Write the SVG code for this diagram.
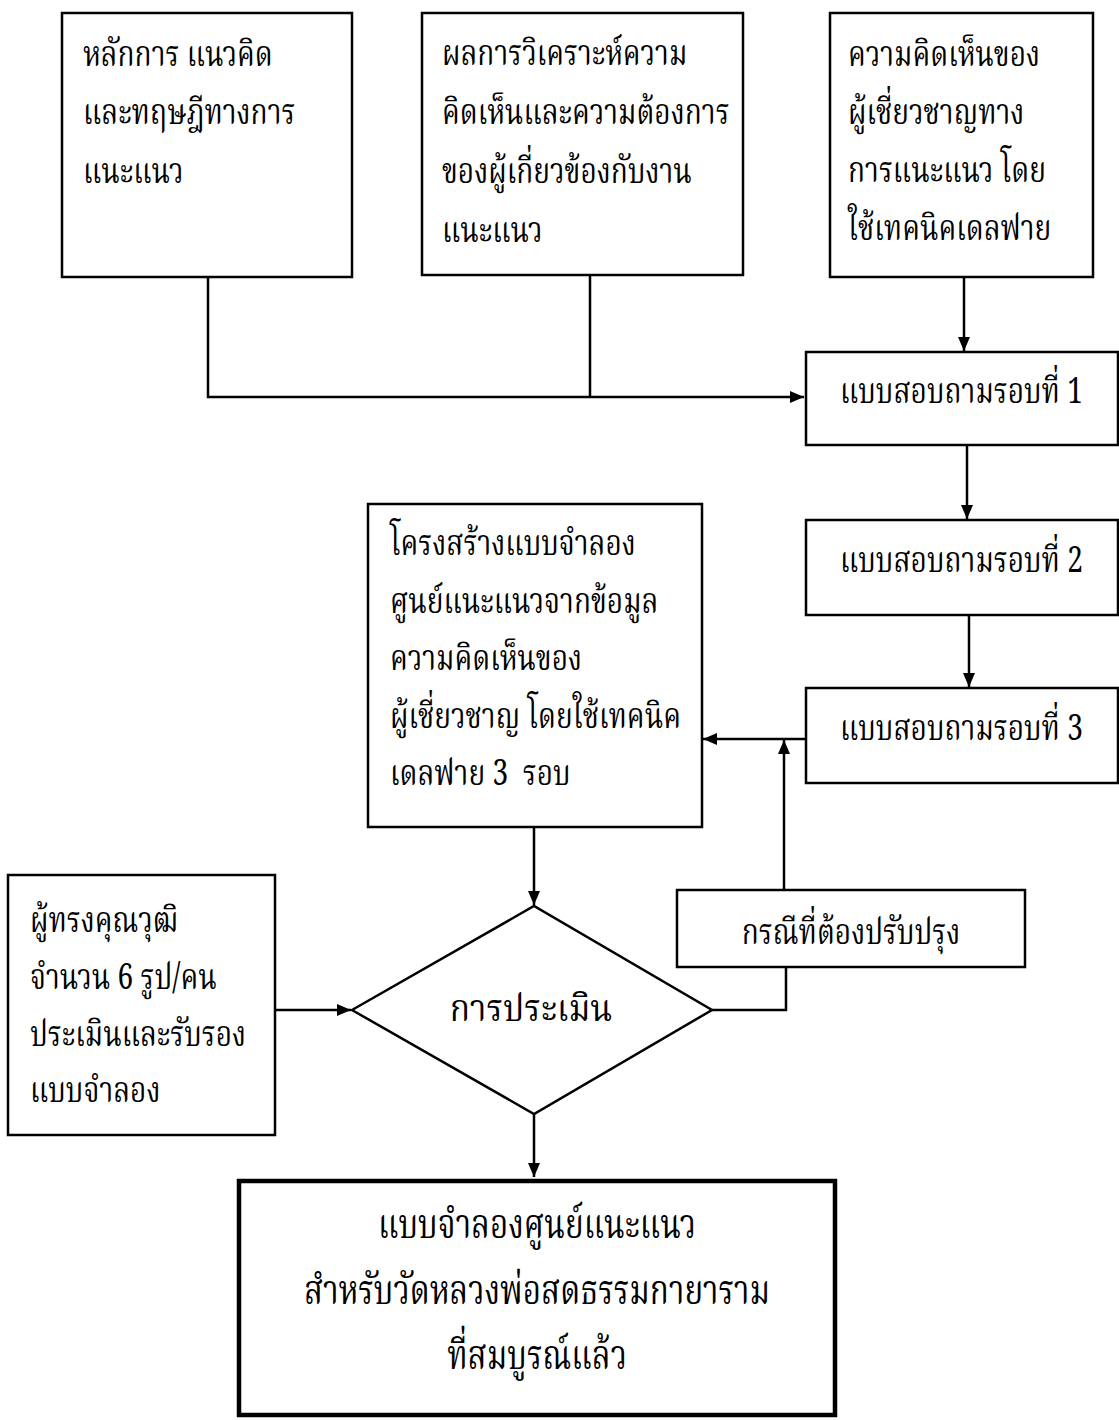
<svg xmlns="http://www.w3.org/2000/svg" width="1119" height="1420" viewBox="0 0 1119 1420">
<defs>
<marker id="ah" markerWidth="14" markerHeight="12" refX="14" refY="6" orient="auto" markerUnits="userSpaceOnUse">
<path d="M0,0 L14,6 L0,12 Z" fill="#000"/>
</marker>
<style>
.box{fill:#fff;stroke:#000;stroke-width:2.5}
.fin{fill:#fff;stroke:#000;stroke-width:4.5}
.t{font-family:"Noto Serif Thai","Noto Sans Thai","Loma","Garuda","Norasi","Liberation Serif",serif;font-size:36px;fill:#000}
.tc{text-anchor:middle}
.tf{font-size:41px}
.td{font-size:38px}
.c{fill:none;stroke:#000;stroke-width:2.5}
</style>
</defs>
<rect width="1119" height="1420" fill="#fff"/>
<g id="connectors">
<polyline class="c" points="208,277 208,397 804,397" marker-end="url(#ah)"/>
<line class="c" x1="590" y1="275" x2="590" y2="397"/>
<line class="c" x1="964" y1="277" x2="964" y2="351" marker-end="url(#ah)"/>
<line class="c" x1="967" y1="445" x2="967" y2="519" marker-end="url(#ah)"/>
<line class="c" x1="969" y1="615" x2="969" y2="687" marker-end="url(#ah)"/>
<line class="c" x1="806" y1="739" x2="703" y2="739" marker-end="url(#ah)"/>
<line class="c" x1="784" y1="890" x2="784" y2="740" marker-end="url(#ah)"/>
<line class="c" x1="534" y1="827" x2="534" y2="905" marker-end="url(#ah)"/>
<line class="c" x1="275" y1="1010" x2="351" y2="1010" marker-end="url(#ah)"/>
<polyline class="c" points="712,1010 786,1010 786,967"/>
<line class="c" x1="534" y1="1114" x2="534" y2="1177" marker-end="url(#ah)"/>
</g>
<g id="n1">
<rect class="box" x="62" y="13" width="290" height="264"/>
<text class="t" transform="translate(83,66) scale(0.78,1)">หลักการ แนวคิด</text>
<text class="t" transform="translate(83,124) scale(0.78,1)">และทฤษฎีทางการ</text>
<text class="t" transform="translate(83,183) scale(0.78,1)">แนะแนว</text>
</g>
<g id="n2">
<rect class="box" x="422" y="13" width="321" height="262"/>
<text class="t" transform="translate(442,65) scale(0.78,1)">ผลการวิเคราะห์ความ</text>
<text class="t" transform="translate(442,124) scale(0.78,1)">คิดเห็นและความต้องการ</text>
<text class="t" transform="translate(442,183) scale(0.78,1)">ของผู้เกี่ยวข้องกับงาน</text>
<text class="t" transform="translate(442,242) scale(0.78,1)">แนะแนว</text>
</g>
<g id="n3">
<rect class="box" x="830" y="13" width="263" height="264"/>
<text class="t" transform="translate(848,66) scale(0.78,1)">ความคิดเห็นของ</text>
<text class="t" transform="translate(848,124) scale(0.78,1)">ผู้เชี่ยวชาญทาง</text>
<text class="t" transform="translate(848,182) scale(0.78,1)">การแนะแนว โดย</text>
<text class="t" transform="translate(848,240) scale(0.78,1)">ใช้เทคนิคเดลฟาย</text>
</g>
<g id="q1">
<rect class="box" x="806" y="352" width="312" height="93"/>
<text class="t" transform="translate(840,403) scale(0.78,1)">แบบสอบถามรอบที่ 1</text>
</g>
<g id="q2">
<rect class="box" x="806" y="520" width="312" height="95"/>
<text class="t" transform="translate(840,572) scale(0.78,1)">แบบสอบถามรอบที่ 2</text>
</g>
<g id="q3">
<rect class="box" x="806" y="688" width="312" height="95"/>
<text class="t" transform="translate(840,740) scale(0.78,1)">แบบสอบถามรอบที่ 3</text>
</g>
<g id="structure">
<rect class="box" x="368" y="504" width="334" height="323"/>
<text class="t" transform="translate(390,555) scale(0.78,1)">โครงสร้างแบบจำลอง</text>
<text class="t" transform="translate(390,613) scale(0.78,1)">ศูนย์แนะแนวจากข้อมูล</text>
<text class="t" transform="translate(390,670) scale(0.78,1)">ความคิดเห็นของ</text>
<text class="t" transform="translate(390,728) scale(0.78,1)">ผู้เชี่ยวชาญ โดยใช้เทคนิค</text>
<text class="t" transform="translate(390,785) scale(0.78,1)">เดลฟาย 3&#160; รอบ</text>
</g>
<g id="experts">
<rect class="box" x="8" y="875" width="267" height="260"/>
<text class="t" transform="translate(30,932) scale(0.78,1)">ผู้ทรงคุณวุฒิ</text>
<text class="t" transform="translate(30,989) scale(0.78,1)">จำนวน 6 รูป/คน</text>
<text class="t" transform="translate(30,1046) scale(0.78,1)">ประเมินและรับรอง</text>
<text class="t" transform="translate(30,1102) scale(0.78,1)">แบบจำลอง</text>
</g>
<g id="evaluation">
<polygon class="box" points="352,1010 534,906 712,1010 534,1114"/>
<text class="t tc td" transform="translate(531,1021) scale(0.88,1)">การประเมิน</text>
</g>
<g id="improve">
<rect class="box" x="677" y="890" width="348" height="77"/>
<text class="t tc" transform="translate(851,944) scale(0.78,1)">กรณีที่ต้องปรับปรุง</text>
</g>
<g id="final">
<rect class="fin" x="239" y="1181" width="596" height="234"/>
<text class="t tc tf" transform="translate(537,1238) scale(0.765,1)">แบบจำลองศูนย์แนะแนว</text>
<text class="t tc tf" transform="translate(537,1304) scale(0.765,1)">สำหรับวัดหลวงพ่อสดธรรมกายาราม</text>
<text class="t tc tf" transform="translate(537,1369) scale(0.765,1)">ที่สมบูรณ์แล้ว</text>
</g>
</svg>
